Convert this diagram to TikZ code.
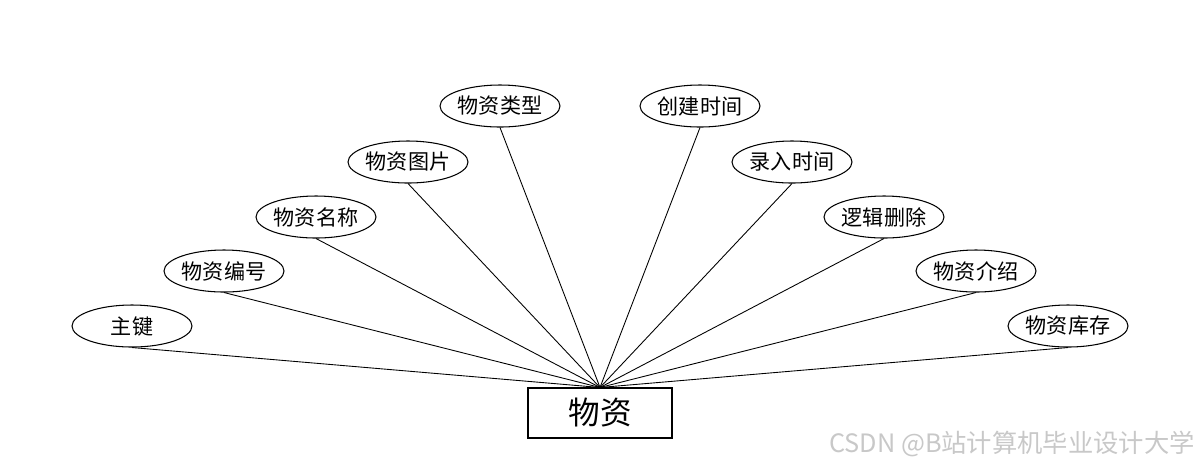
\documentclass[tikz,border=0pt]{standalone}
\usepackage{fontspec}
\setmainfont{Noto Sans CJK SC}
\definecolor{markGray}{RGB}{200,200,200}
\usetikzlibrary{shapes.geometric}

\begin{document}
\begin{tikzpicture}[x=0.02cm, y=-0.02cm,
  attr/.style={draw, ellipse, line width=0.6pt, minimum width=2.4cm, minimum height=0.84cm,
               inner sep=0pt, font=\fontsize{12}{14}\selectfont},
  entity/.style={draw, rectangle, line width=0.6pt, minimum width=2.88cm, minimum height=1cm,
                 inner sep=0pt, font=\fontsize{18}{20}\selectfont},
  link/.style={line width=0.5pt}]
  \useasboundingbox (0,0) rectangle (1200,468);
  \node[entity] (wz) at (600,413) {物资};
  % attributes, left side
  \node[attr] (zj) at (132,326) {主键};
  \node[attr] (bh) at (224,271) {物资编号};
  \node[attr] (mc) at (316,217) {物资名称};
  \node[attr] (tp) at (408,162) {物资图片};
  \node[attr] (lx) at (500,106) {物资类型};
  % attributes, right side
  \node[attr] (cj) at (700,106) {创建时间};
  \node[attr] (lr) at (792,162) {录入时间};
  \node[attr] (sc) at (884,217) {逻辑删除};
  \node[attr] (js) at (976,271) {物资介绍};
  \node[attr] (kc) at (1068,326) {物资库存};
  \draw[link] (zj.south)--(wz.north); \draw[link] (bh.south)--(wz.north);
  \draw[link] (mc.south)--(wz.north); \draw[link] (tp.south)--(wz.north);
  \draw[link] (lx.south)--(wz.north); \draw[link] (cj.south)--(wz.north);
  \draw[link] (lr.south)--(wz.north); \draw[link] (sc.south)--(wz.north);
  \draw[link] (js.south)--(wz.north); \draw[link] (kc.south)--(wz.north);
  \node[anchor=east, text=markGray, inner sep=0pt, font=\fontsize{14.4}{16}\selectfont]
       (mark) at (1195,444) {CSDN @B站计算机毕业设计大学};
\end{tikzpicture}
\end{document}
